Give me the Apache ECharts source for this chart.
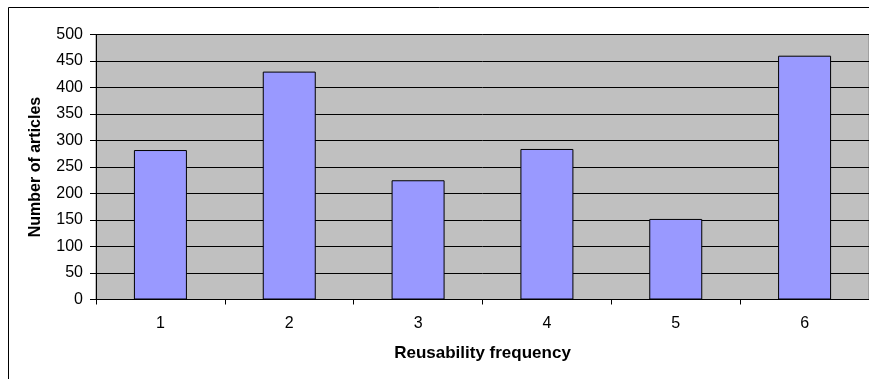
<!DOCTYPE html>
<html>
<head>
<meta charset="utf-8">
<script src="https://cdn.jsdelivr.net/npm/echarts@6/dist/echarts.min.js"></script>
<style>
html,body{margin:0;padding:0;background:#fff;}
#chart{width:869px;height:379px;}
</style>
</head>
<body>
<div id="chart"></div>
<script>
// Articles counted per reusability frequency
const categories = ['1', '2', '3', '4', '5', '6'];
const articleCounts = [282, 430, 225, 284, 152, 460];
const yTicks = { min: 0, max: 500, interval: 50 };

const chart = echarts.init(document.getElementById('chart'), null, { renderer: 'canvas' });
const font = 'Liberation Sans, Arial, sans-serif';

chart.setOption({
  animation: false,
  backgroundColor: '#ffffff',
  graphic: [{
    type: 'rect',
    shape: { x: 8.5, y: 7.5, width: 900, height: 420 },
    style: { fill: 'none', stroke: '#000', lineWidth: 1 },
    silent: true,
    z: -1
  }],
  grid: {
    show: true,
    left: 96,
    top: 34.5,
    width: 776,
    height: 265,
    backgroundColor: '#c0c0c0',
    borderColor: '#808080',
    borderWidth: 1
  },
  xAxis: {
    type: 'category',
    data: categories,
    boundaryGap: true,
    name: 'Reusability frequency',
    nameLocation: 'middle',
    nameGap: 45,
    nameTextStyle: { fontFamily: font, fontSize: 17, fontWeight: 'bold', color: '#000' },
    axisLine: { show: true, lineStyle: { color: '#000', width: 1 } },
    axisTick: { show: true, alignWithLabel: false, length: 5, lineStyle: { color: '#000' } },
    axisLabel: { fontFamily: font, fontSize: 16, color: '#000', margin: 16 },
    splitLine: { show: false }
  },
  yAxis: {
    type: 'value',
    min: yTicks.min,
    max: yTicks.max,
    interval: yTicks.interval,
    name: 'Number of articles',
    nameLocation: 'middle',
    nameGap: 52,
    nameTextStyle: { fontFamily: font, fontSize: 16, fontWeight: 'bold', color: '#000' },
    axisLine: { show: true, lineStyle: { color: '#000', width: 1 } },
    axisTick: { show: true, inside: false, length: 6, lineStyle: { color: '#000' } },
    axisLabel: { fontFamily: font, fontSize: 16, color: '#000', margin: 13 },
    splitLine: { show: true, lineStyle: { color: '#000', width: 1 } }
  },
  series: [{
    type: 'bar',
    data: articleCounts,
    barWidth: 53,
    itemStyle: { color: '#9999ff', borderColor: '#000', borderWidth: 1 }
  }]
});
</script>
</body>
</html>
